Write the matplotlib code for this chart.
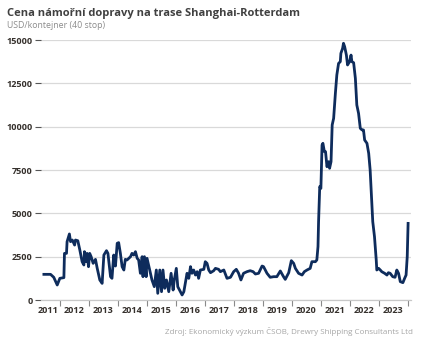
import numpy as np
import matplotlib

matplotlib.use('Agg')
import matplotlib.pyplot as plt
from matplotlib.ticker import FixedLocator, NullFormatter

plt.rcParams['font.family'] = ['Open Sans', 'DejaVu Sans']

# Shanghai-Rotterdam freight rate, USD per 40ft container (decimal year, value)
years = [2011.45, 2011.68, 2011.79, 2011.91, 2012.00, 2012.14, 2012.16, 2012.23, 2012.25, 2012.33,
         2012.37, 2012.43, 2012.51, 2012.54, 2012.62, 2012.69, 2012.77, 2012.83, 2012.85, 2012.90,
         2012.94, 2012.99, 2013.03, 2013.08, 2013.15, 2013.23, 2013.29, 2013.38, 2013.46, 2013.52,
         2013.61, 2013.66, 2013.75, 2013.80, 2013.86, 2013.92, 2013.98, 2014.03, 2014.09, 2014.15,
         2014.21, 2014.26, 2014.32, 2014.44, 2014.49, 2014.55, 2014.61, 2014.67, 2014.72, 2014.78,
         2014.84, 2014.87, 2014.92, 2014.98, 2015.01, 2015.10, 2015.18, 2015.26, 2015.33, 2015.38,
         2015.45, 2015.51, 2015.56, 2015.62, 2015.68, 2015.76, 2015.84, 2015.91, 2015.95, 2016.02,
         2016.07, 2016.16, 2016.22, 2016.28, 2016.33, 2016.39, 2016.45, 2016.51, 2016.56, 2016.62,
         2016.68, 2016.74, 2016.79, 2016.85, 2016.97, 2017.02, 2017.08, 2017.14, 2017.20, 2017.31,
         2017.37, 2017.48, 2017.54, 2017.66, 2017.77, 2017.89, 2018.00, 2018.09, 2018.17, 2018.25,
         2018.34, 2018.46, 2018.57, 2018.67, 2018.75, 2018.86, 2018.98, 2019.03, 2019.09, 2019.15,
         2019.26, 2019.38, 2019.49, 2019.61, 2019.72, 2019.78, 2019.90, 2019.99, 2020.07, 2020.13,
         2020.24, 2020.36, 2020.44, 2020.53, 2020.64, 2020.70, 2020.82, 2020.87, 2020.91, 2020.93,
         2020.97, 2021.01, 2021.05, 2021.08, 2021.13, 2021.17, 2021.22, 2021.28, 2021.31, 2021.36,
         2021.40, 2021.45, 2021.51, 2021.56, 2021.62, 2021.68, 2021.70, 2021.76, 2021.79, 2021.83,
         2021.89, 2021.93, 2022.00, 2022.05, 2022.08, 2022.14, 2022.20, 2022.25, 2022.31, 2022.37,
         2022.43, 2022.48, 2022.52, 2022.60, 2022.66, 2022.71, 2022.77, 2022.80, 2022.86, 2022.92,
         2022.94, 2023.00, 2023.06, 2023.11, 2023.21, 2023.29, 2023.34, 2023.40, 2023.49, 2023.57,
         2023.63, 2023.69, 2023.75, 2023.84, 2023.90, 2023.95, 2023.99, 2024.02]
rates = [1480, 1480, 1310, 865, 1250, 1290, 2690, 2690, 3365, 3810,
         3365, 3460, 3170, 3460, 3420, 2885, 2210, 2020, 2790, 2210,
         2690, 1920, 2690, 2500, 2115, 2345, 1830, 1155, 960, 2595,
         2845, 2690, 1345, 1250, 2595, 1960, 3270, 3310, 2690, 1920,
         1730, 2345, 2310, 2500, 2690, 2595, 2790, 2405, 2310, 1540,
         2500, 1345, 2500, 1345, 2405, 1730, 1155, 770, 1730, 385,
         1730, 480, 1730, 675, 1155, 480, 1540, 575, 1155, 1825,
         770, 480, 290, 480, 960, 1540, 1250, 1925, 1540, 1730,
         1440, 1635, 1250, 1730, 1770, 2210, 2115, 1730, 1575, 1690,
         1825, 1770, 1635, 1730, 1250, 1310, 1635, 1770, 1540, 1155,
         1540, 1635, 1690, 1635, 1500, 1540, 1960, 1925, 1730, 1540,
         1310, 1345, 1345, 1675, 1345, 1190, 1575, 2270, 2115, 1825,
         1540, 1440, 1635, 1730, 1825, 2210, 2210, 2310, 3080, 4520,
         6540, 6440, 8940, 9040, 8560, 8560, 7690, 7980, 7600, 7980,
         10100, 10480, 11920, 12980, 13650, 13750, 14230, 14520, 14810, 14615,
         14130, 13560, 13750, 14130, 13750, 13690, 12790, 11250, 10770, 9905,
         9810, 9810, 9230, 9040, 8460, 7500, 5580, 4520, 3650, 2310,
         1730, 1830, 1730, 1635, 1540, 1440, 1575, 1540, 1345, 1310,
         1730, 1540, 1060, 1000, 1250, 1440, 2500, 4420]

year_labels = [str(y) for y in range(2011, 2024)]
y_ticks = [0, 2500, 5000, 7500, 10000, 12500, 15000]

x_start, x_end = 2011.35, 2024.12

fig = plt.figure(figsize=(4.23, 3.46), dpi=100)
ax = fig.add_axes([41 / 423, 1 - 300 / 346, (411 - 41) / 423, 260 / 346])

ax.plot(years, rates, color='#0e2c5c', lw=2.0, solid_joinstyle='round', clip_on=False, zorder=3)

ax.set_xlim(x_start, x_end)
ax.set_ylim(0, 15000)

# year boundaries as tick marks, year names centred in between
ax.xaxis.set_major_locator(FixedLocator(list(range(2012, 2025))))
ax.xaxis.set_major_formatter(NullFormatter())
label_pos = [2011.6] + [y + 0.5 for y in range(2012, 2024)]
ax.xaxis.set_minor_locator(FixedLocator(label_pos))
ax.set_xticklabels(year_labels, minor=True)
ax.tick_params(axis='x', which='major', direction='out', length=4, width=0.8, color='#8a8a8a')
ax.tick_params(axis='x', which='minor', length=0, pad=4, labelsize=6.6, labelcolor='#36312d')
for lab in ax.get_xticklabels(minor=True):
    lab.set_fontweight('bold')

ax.set_yticks(y_ticks)
ax.set_yticklabels([str(v) for v in y_ticks])
ax.tick_params(axis='y', direction='out', length=4, width=0.8, color='#555555', pad=2,
               labelsize=6.6, labelcolor='#36312d')
for lab in ax.get_yticklabels():
    lab.set_fontweight('bold')

ax.grid(axis='y', color='#d9d9d9', lw=0.9)
ax.set_axisbelow(True)
for side in ['top', 'right', 'left']:
    ax.spines[side].set_visible(False)
ax.spines['bottom'].set_color('#c8c8c8')
ax.spines['bottom'].set_linewidth(0.9)

fig.text(7 / 423, 1 - 16 / 346, 'Cena námořní dopravy na trase Shanghai-Rotterdam',
         fontsize=8.0, fontweight='bold', color='#404040', va='baseline')
fig.text(7 / 423, 1 - 28 / 346, 'USD/kontejner (40 stop)', fontsize=6.3, color='#8c8c8c',
         va='baseline')
fig.text(413 / 423, 1 - 334 / 346, 'Zdroj: Ekonomický výzkum ČSOB, Drewry Shipping Consultants Ltd',
         fontsize=5.8, color='#a6a6a6', ha='right', va='baseline')

fig.savefig('out.png', dpi=100)
